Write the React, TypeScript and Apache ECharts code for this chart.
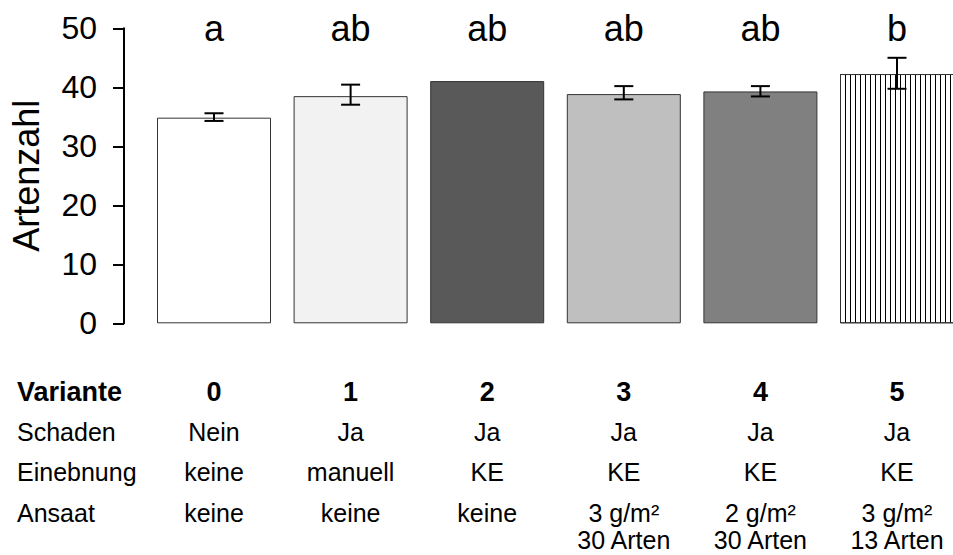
import React, { useEffect, useRef } from "react";
import * as echarts from "echarts";

const categories = ["0", "1", "2", "3", "4", "5"];
const means = [34.85, 38.5, 41.05, 38.85, 39.3, 42.25];
const errLow: (number | null)[] = [34.3, 37.05, null, 37.95, 38.45, 39.75];
const errHigh: (number | null)[] = [35.6, 40.45, null, 40.2, 40.2, 45.0];
const barColors = ["#ffffff", "#f2f2f2", "#595959", "#bfbfbf", "#808080", "#ffffff"];
const striped = [false, false, false, false, false, true];
const sigLetters = ["a", "ab", "ab", "ab", "ab", "b"];
const yTicks = { min: 0, max: 50, interval: 10 };

const rowLabels = ["Variante", "Schaden", "Einebnung", "Ansaat"];
const schadenRow = ["Nein", "Ja", "Ja", "Ja", "Ja", "Ja"];
const einebnungRow = ["keine", "manuell", "KE", "KE", "KE", "KE"];
const ansaatRow = ["keine", "keine", "keine", "3 g/m²\n30 Arten", "2 g/m²\n30 Arten", "3 g/m²\n13 Arten"];

const FONT = "'Liberation Sans', Arial, Helvetica, sans-serif";

export default function App() {
  const ref = useRef<HTMLDivElement>(null);
  useEffect(() => {
    if (!ref.current) return;
    const chart = echarts.init(ref.current, undefined, { renderer: "svg" });
    const errData = categories
      .map((_, i) => (errLow[i] != null ? [i, errLow[i], errHigh[i]] : null))
      .filter((d) => d !== null);
    chart.setOption({
      animation: false,
      backgroundColor: "#ffffff",
      textStyle: { fontFamily: FONT },
      grid: {
        left: 145.7,
        width: 819.6,
        top: 28.3,
        height: 295,
        containLabel: false,
        outerBoundsMode: "none",
      },
      xAxis: {
        type: "category",
        data: categories,
        axisLine: { show: false },
        axisTick: { show: false },
        axisLabel: { show: false },
        splitLine: { show: false },
      },
      yAxis: {
        type: "value",
        min: yTicks.min,
        max: yTicks.max,
        interval: yTicks.interval,
        offset: 21.7,
        name: "Artenzahl",
        nameLocation: "middle",
        nameGap: 80,
        nameTextStyle: { fontSize: 36, color: "#000", fontFamily: FONT },
        axisLine: { show: true, lineStyle: { color: "#000", width: 2 } },
        axisTick: { show: true, length: 11, lineStyle: { color: "#000", width: 2 } },
        axisLabel: { fontSize: 32, color: "#000", margin: 27, fontFamily: FONT },
        splitLine: { show: false },
      },
      series: [
        {
          type: "bar",
          barWidth: 114,
          data: means.map((v, i) => ({
            value: v,
            itemStyle: {
              color: barColors[i],
              borderColor: "#333",
              borderWidth: 1,
              decal: striped[i]
                ? {
                    symbol: "rect",
                    symbolSize: 1,
                    dashArrayX: [1, 3.3],
                    dashArrayY: [10, 0],
                    color: "#000",
                  }
                : undefined,
            },
          })),
        },
        {
          type: "custom",
          data: errData,
          z: 10,
          renderItem: (params: any, api: any) => {
            const x = api.value(0);
            const lo = api.coord([x, api.value(1)]);
            const hi = api.coord([x, api.value(2)]);
            const hw = 9.5;
            const st = { stroke: "#000", lineWidth: 2 };
            return {
              type: "group",
              children: [
                { type: "line", shape: { x1: lo[0], y1: lo[1], x2: hi[0], y2: hi[1] }, style: st },
                { type: "line", shape: { x1: lo[0] - hw, y1: lo[1], x2: lo[0] + hw, y2: lo[1] }, style: st },
                { type: "line", shape: { x1: hi[0] - hw, y1: hi[1], x2: hi[0] + hw, y2: hi[1] }, style: st },
              ],
            };
          },
        },
        {
          type: "scatter",
          symbolSize: 1,
          itemStyle: { color: "transparent", opacity: 1 },
          data: sigLetters.map(() => yTicks.max),
          label: {
            show: true,
            position: "inside",
            fontSize: 36,
            color: "#000",
            opacity: 1,
            fontFamily: FONT,
            formatter: (p: any) => sigLetters[p.dataIndex],
          },
        },
      ],
    });

    const xs = categories.map((_, i) => chart.convertToPixel({ xAxisIndex: 0 }, i) as number);
    const lh = 27;
    const rowCenters = [392, 432, 472, 513];
    const rows = [categories, schadenRow, einebnungRow, ansaatRow];
    const graphics: any[] = [];
    rows.forEach((row, r) => {
      const bold = r === 0;
      const fs = bold ? 27 : 25;
      graphics.push({
        type: "text",
        x: 17,
        y: rowCenters[r] - lh / 2,
        style: {
          text: rowLabels[r],
          font: `${bold ? "bold " : ""}${fs}px ${FONT}`,
          fill: "#000",
          textAlign: "left",
          textVerticalAlign: "top",
          lineHeight: lh,
        },
      });
      row.forEach((t, i) => {
        graphics.push({
          type: "text",
          x: xs[i],
          y: rowCenters[r] - lh / 2,
          style: {
            text: t,
            font: `${bold ? "bold " : ""}${fs}px ${FONT}`,
            fill: "#000",
            textAlign: "center",
            textVerticalAlign: "top",
            lineHeight: lh,
          },
        });
      });
    });
    chart.setOption({ graphic: graphics });

    return () => chart.dispose();
  }, []);
  return (
    <div
      ref={ref}
      style={{ position: "absolute", left: 0, top: 0, width: 953, height: 555 }}
    />
  );
}
